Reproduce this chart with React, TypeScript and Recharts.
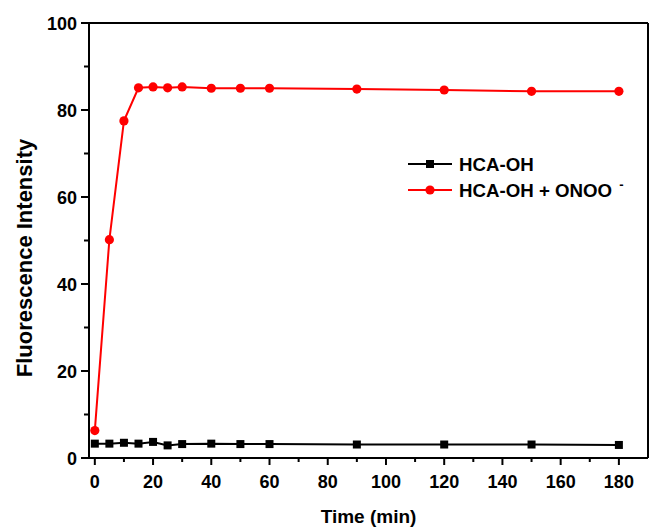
import React from "react";
import { LineChart, Line, XAxis, YAxis, ReferenceLine } from "recharts";

const times = [0, 5, 10, 15, 20, 25, 30, 40, 50, 60, 90, 120, 150, 180];
const probeOnly = [3.3, 3.3, 3.5, 3.3, 3.7, 2.9, 3.2, 3.3, 3.2, 3.2, 3.1, 3.1, 3.1, 3.0];
const withOnoo = [6.3, 50.2, 77.5, 85.1, 85.3, 85.1, 85.3, 85.0, 85.0, 85.0, 84.8, 84.6, 84.3, 84.3];
const xTicks = [0, 10, 20, 30, 40, 50, 60, 70, 80, 90, 100, 110, 120, 130, 140, 150, 160, 170, 180];
const yTicks = [0, 10, 20, 30, 40, 50, 60, 70, 80, 90, 100];
const seriesNames = ["HCA-OH", "HCA-OH + ONOO"];

const data = times.map((t, i) => ({ t, a: probeOnly[i], b: withOnoo[i] }));

const FONT = "'Liberation Sans', Arial, Helvetica, sans-serif";
const RED = "#ff0000";

const XTick = (props: any) => {
  const { x, y, payload } = props;
  const major = payload.value % 20 === 0;
  return (
    <g>
      <line x1={x} y1={y} x2={x} y2={y + (major ? 7 : 4)} stroke="#000" strokeWidth={2} />
      {major && (
        <text x={x} y={y + 30} textAnchor="middle" fontSize={18} fontWeight="bold" fontFamily={FONT} fill="#000">
          {payload.value}
        </text>
      )}
    </g>
  );
};

const YTick = (props: any) => {
  const { x, y, payload } = props;
  const major = payload.value % 20 === 0;
  return (
    <g>
      <line x1={x - (major ? 8 : 5)} y1={y} x2={x} y2={y} stroke="#000" strokeWidth={2} />
      {major && (
        <text x={x - 12} y={y + 6.5} textAnchor="end" fontSize={18} fontWeight="bold" fontFamily={FONT} fill="#000">
          {payload.value}
        </text>
      )}
    </g>
  );
};

const SquareDot = (props: any) => {
  const { cx, cy } = props;
  if (cx == null || cy == null) return null;
  return <rect x={cx - 4} y={cy - 4} width={8} height={8} fill="#000" />;
};

const RoundDot = (props: any) => {
  const { cx, cy } = props;
  if (cx == null || cy == null) return null;
  return <circle cx={cx} cy={cy} r={4.6} fill={RED} />;
};

const LegendBox = () => (
  <svg width={249} height={60} style={{ position: "absolute", left: 400, top: 150, display: "block" }}>
    <line x1={8} y1={14} x2={52} y2={14} stroke="#000" strokeWidth={2} />
    <rect x={26} y={10} width={8} height={8} fill="#000" />
    <text x={59} y={20.5} fontSize={18.7} fontWeight="bold" fontFamily={FONT} fill="#000">
      {seriesNames[0]}
    </text>
    <line x1={8} y1={40} x2={52} y2={40} stroke={RED} strokeWidth={2} />
    <circle cx={30} cy={40} r={4.6} fill={RED} />
    <text x={59} y={46.5} fontSize={18.7} fontWeight="bold" fontFamily={FONT} fill="#000">
      {seriesNames[1]}
      <tspan dx={7} dy={-8} fontSize={13}>-</tspan>
    </text>
  </svg>
);

export default function App() {
  return (
    <div style={{ position: "absolute", left: 0, top: 0, width: 649, height: 532, background: "#fff" }}>
      <LineChart width={649} height={532} data={data} margin={{ top: 23, right: 1, bottom: 0, left: 0 }}>
        <XAxis
          dataKey="t"
          type="number"
          domain={[-2, 190]}
          ticks={xTicks}
          allowDataOverflow
          interval={0}
          height={74}
          axisLine={{ stroke: "#000", strokeWidth: 2 }}
          tickLine={false}
          tickSize={0}
          tickMargin={0}
          tick={<XTick />}
          label={{
            value: "Time (min)",
            position: "insideBottom",
            offset: 9,
            style: { fontSize: 19, fontWeight: "bold", fontFamily: FONT, fill: "#000" },
          }}
        />
        <YAxis
          type="number"
          domain={[0, 100]}
          ticks={yTicks}
          interval={0}
          width={89}
          axisLine={{ stroke: "#000", strokeWidth: 2 }}
          tickLine={false}
          tickSize={0}
          tickMargin={0}
          tick={<YTick />}
          label={{
            content: () => (
              <text
                x={0}
                y={0}
                transform="translate(32, 258) rotate(-90)"
                textAnchor="middle"
                fontSize={22}
                fontWeight="bold"
                fontFamily={FONT}
                fill="#000"
              >
                Fluorescence Intensity
              </text>
            ),
          }}
        />
        <ReferenceLine y={100} stroke="#000" strokeWidth={2} />
        <ReferenceLine x={190} stroke="#000" strokeWidth={2} />
        <Line dataKey="a" name={seriesNames[0]} stroke="#000" strokeWidth={2} dot={<SquareDot />} activeDot={false} isAnimationActive={false} />
        <Line dataKey="b" name={seriesNames[1]} stroke={RED} strokeWidth={2} dot={<RoundDot />} activeDot={false} isAnimationActive={false} />
      </LineChart>
      <LegendBox />
    </div>
  );
}
